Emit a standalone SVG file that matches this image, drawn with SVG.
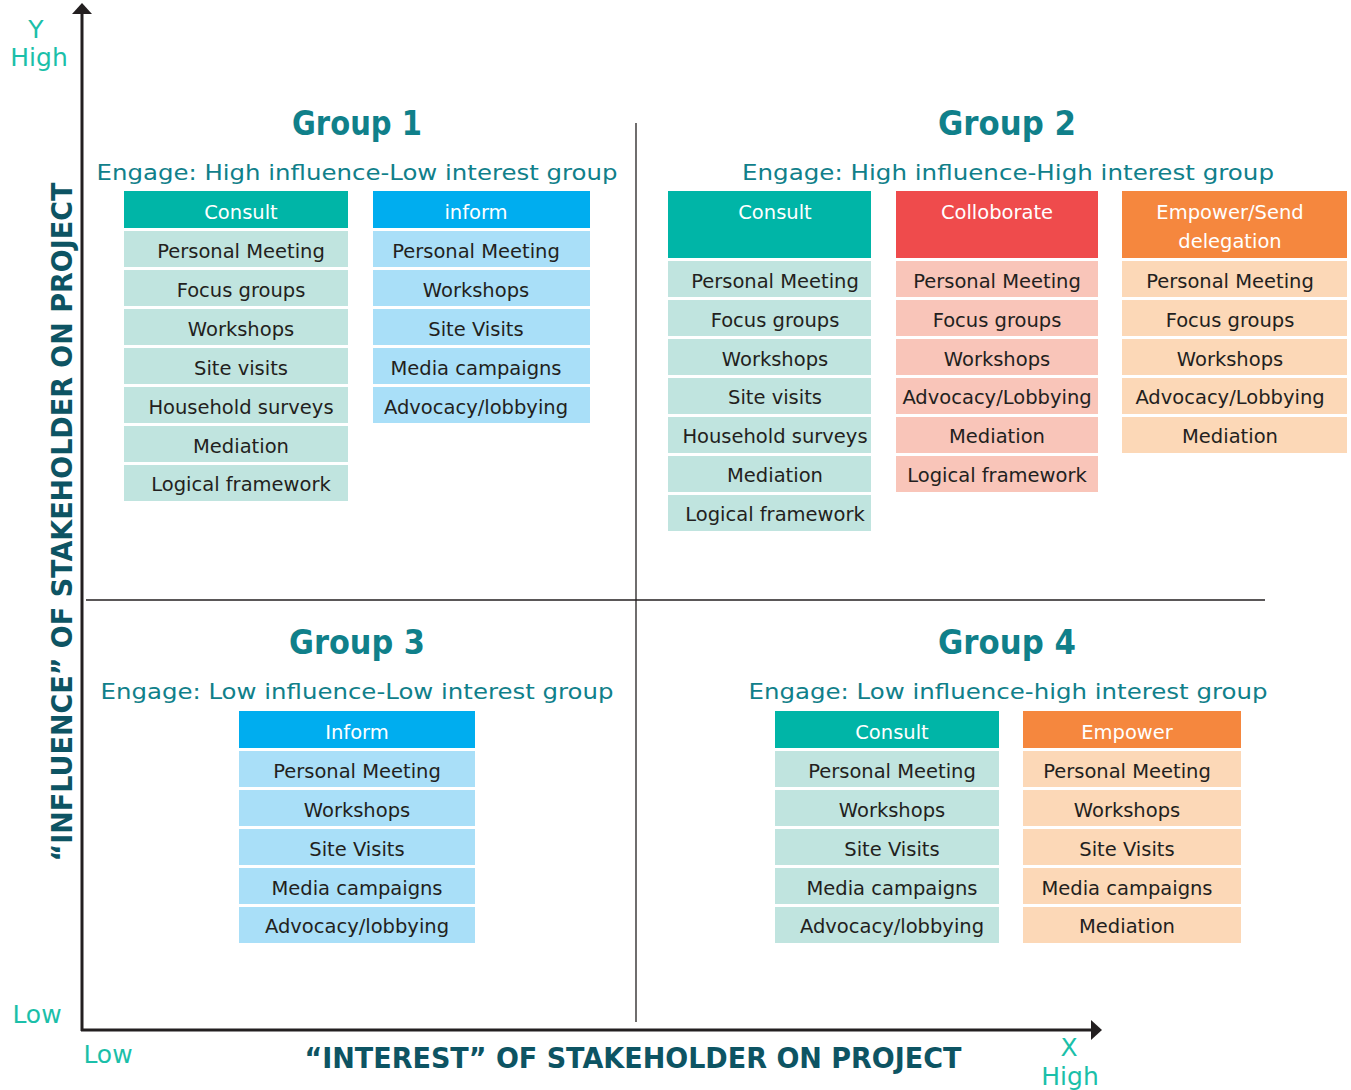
<svg xmlns="http://www.w3.org/2000/svg" width="1351" height="1090" viewBox="0 0 1351 1090">
<style>
text{font-family:"DejaVu Sans","Noto Sans",sans-serif;}
.title{font-size:34px;font-weight:bold;fill:#10808a;text-anchor:middle;}
.sub{font-size:22px;fill:#10808a;text-anchor:middle;}
.hd{font-size:19.5px;fill:#ffffff;text-anchor:middle;}
.it{font-size:19.5px;fill:#231f20;text-anchor:middle;}
.ax{font-size:25px;fill:#1bbfa9;}
.axl{font-size:29px;font-weight:bold;fill:#0d5463;}
.c{fill:#00b5a7}.cl{fill:#c0e4df}
.i{fill:#00adef}.il{fill:#a9dff8}
.r{fill:#ef4b4c}.rl{fill:#f9c5b9}
.o{fill:#f5873e}.ol{fill:#fcd8b7}
.line{stroke:#231f20;fill:none;}
</style>

<g id="axes">
<line class="line" x1="82" y1="12" x2="82" y2="1031" stroke-width="3"/>
<polygon points="82,3 72,14 92,14" fill="#231f20"/>
<line class="line" x1="81" y1="1030" x2="1093" y2="1030" stroke-width="3"/>
<polygon points="1102,1030 1091,1020 1091,1040" fill="#231f20"/>
<line class="line" x1="636" y1="123" x2="636" y2="1022" stroke-width="1.3"/>
<line class="line" x1="86" y1="600" x2="1265" y2="600" stroke-width="1.3"/>
<text class="ax" x="36" y="38" text-anchor="middle">Y</text>
<text class="ax" x="39" y="66" text-anchor="middle">High</text>
<text class="ax" x="37" y="1023" text-anchor="middle">Low</text>
<text class="ax" x="108" y="1063" text-anchor="middle">Low</text>
<text class="ax" x="1069" y="1056" text-anchor="middle">X</text>
<text class="ax" x="1070" y="1085" text-anchor="middle">High</text>
<text class="axl" x="633" y="1068" text-anchor="middle" textLength="657" lengthAdjust="spacingAndGlyphs">“INTEREST” OF STAKEHOLDER ON PROJECT</text>
<text class="axl" transform="translate(72,522) rotate(-90)" x="0" y="0" text-anchor="middle" textLength="679" lengthAdjust="spacingAndGlyphs">“INFLUENCE” OF STAKEHOLDER ON PROJECT</text>
</g>

<g id="group1">
<text class="title" x="357" y="135" textLength="130" lengthAdjust="spacingAndGlyphs">Group 1</text>
<text class="sub" x="357" y="180" textLength="521" lengthAdjust="spacingAndGlyphs">Engage: High influence-Low interest group</text>
<g id="g1-consult">
<rect class="c" x="124" y="191" width="224" height="37"/>
<text class="hd" x="241" y="219">Consult</text>
<rect class="cl" x="124" y="231" width="224" height="36"/><text class="it" x="241" y="258">Personal Meeting</text>
<rect class="cl" x="124" y="270" width="224" height="36"/><text class="it" x="241" y="297">Focus groups</text>
<rect class="cl" x="124" y="309" width="224" height="36"/><text class="it" x="241" y="336">Workshops</text>
<rect class="cl" x="124" y="348" width="224" height="36"/><text class="it" x="241" y="375">Site visits</text>
<rect class="cl" x="124" y="387" width="224" height="36"/><text class="it" x="241" y="414">Household surveys</text>
<rect class="cl" x="124" y="426" width="224" height="36"/><text class="it" x="241" y="453">Mediation</text>
<rect class="cl" x="124" y="465" width="224" height="36"/><text class="it" x="241" y="491">Logical framework</text>
</g>
<g id="g1-inform">
<rect class="i" x="373" y="191" width="217" height="37"/>
<text class="hd" x="476" y="219">inform</text>
<rect class="il" x="373" y="231" width="217" height="36"/><text class="it" x="476" y="258">Personal Meeting</text>
<rect class="il" x="373" y="270" width="217" height="36"/><text class="it" x="476" y="297">Workshops</text>
<rect class="il" x="373" y="309" width="217" height="36"/><text class="it" x="476" y="336">Site Visits</text>
<rect class="il" x="373" y="348" width="217" height="36"/><text class="it" x="476" y="375">Media campaigns</text>
<rect class="il" x="373" y="387" width="217" height="36"/><text class="it" x="476" y="414">Advocacy/lobbying</text>
</g>
</g>

<g id="group2">
<text class="title" x="1007" y="135" textLength="138" lengthAdjust="spacingAndGlyphs">Group 2</text>
<text class="sub" x="1008" y="180" textLength="532" lengthAdjust="spacingAndGlyphs">Engage: High influence-High interest group</text>
<g id="g2-consult">
<rect class="c" x="668" y="191" width="203" height="67"/>
<text class="hd" x="775" y="219">Consult</text>
<rect class="cl" x="668" y="261" width="203" height="36"/><text class="it" x="775" y="288">Personal Meeting</text>
<rect class="cl" x="668" y="300" width="203" height="36"/><text class="it" x="775" y="327">Focus groups</text>
<rect class="cl" x="668" y="339" width="203" height="36"/><text class="it" x="775" y="366">Workshops</text>
<rect class="cl" x="668" y="378" width="203" height="36"/><text class="it" x="775" y="404">Site visits</text>
<rect class="cl" x="668" y="417" width="203" height="36"/><text class="it" x="775" y="443">Household surveys</text>
<rect class="cl" x="668" y="456" width="203" height="36"/><text class="it" x="775" y="482">Mediation</text>
<rect class="cl" x="668" y="495" width="203" height="36"/><text class="it" x="775" y="521">Logical framework</text>
</g>
<g id="g2-collaborate">
<rect class="r" x="896" y="191" width="202" height="67"/>
<text class="hd" x="997" y="219">Colloborate</text>
<rect class="rl" x="896" y="261" width="202" height="36"/><text class="it" x="997" y="288">Personal Meeting</text>
<rect class="rl" x="896" y="300" width="202" height="36"/><text class="it" x="997" y="327">Focus groups</text>
<rect class="rl" x="896" y="339" width="202" height="36"/><text class="it" x="997" y="366">Workshops</text>
<rect class="rl" x="896" y="378" width="202" height="36"/><text class="it" x="997" y="404">Advocacy/Lobbying</text>
<rect class="rl" x="896" y="417" width="202" height="36"/><text class="it" x="997" y="443">Mediation</text>
<rect class="rl" x="896" y="456" width="202" height="36"/><text class="it" x="997" y="482">Logical framework</text>
</g>
<g id="g2-empower">
<rect class="o" x="1122" y="191" width="225" height="67"/>
<text class="hd" x="1230" y="219">Empower/Send</text>
<text class="hd" x="1230" y="248">delegation</text>
<rect class="ol" x="1122" y="261" width="225" height="36"/><text class="it" x="1230" y="288">Personal Meeting</text>
<rect class="ol" x="1122" y="300" width="225" height="36"/><text class="it" x="1230" y="327">Focus groups</text>
<rect class="ol" x="1122" y="339" width="225" height="36"/><text class="it" x="1230" y="366">Workshops</text>
<rect class="ol" x="1122" y="378" width="225" height="36"/><text class="it" x="1230" y="404">Advocacy/Lobbying</text>
<rect class="ol" x="1122" y="417" width="225" height="36"/><text class="it" x="1230" y="443">Mediation</text>
</g>
</g>

<g id="group3">
<text class="title" x="357" y="654" textLength="136" lengthAdjust="spacingAndGlyphs">Group 3</text>
<text class="sub" x="357" y="699" textLength="513" lengthAdjust="spacingAndGlyphs">Engage: Low influence-Low interest group</text>
<g id="g3-inform">
<rect class="i" x="239" y="711" width="236" height="37"/>
<text class="hd" x="357" y="739">Inform</text>
<rect class="il" x="239" y="751" width="236" height="36"/><text class="it" x="357" y="778">Personal Meeting</text>
<rect class="il" x="239" y="790" width="236" height="36"/><text class="it" x="357" y="817">Workshops</text>
<rect class="il" x="239" y="829" width="236" height="36"/><text class="it" x="357" y="856">Site Visits</text>
<rect class="il" x="239" y="868" width="236" height="36"/><text class="it" x="357" y="895">Media campaigns</text>
<rect class="il" x="239" y="907" width="236" height="36"/><text class="it" x="357" y="933">Advocacy/lobbying</text>
</g>
</g>

<g id="group4">
<text class="title" x="1007" y="654" textLength="138" lengthAdjust="spacingAndGlyphs">Group 4</text>
<text class="sub" x="1008" y="699" textLength="519" lengthAdjust="spacingAndGlyphs">Engage: Low influence-high interest group</text>
<g id="g4-consult">
<rect class="c" x="775" y="711" width="224" height="37"/>
<text class="hd" x="892" y="739">Consult</text>
<rect class="cl" x="775" y="751" width="224" height="36"/><text class="it" x="892" y="778">Personal Meeting</text>
<rect class="cl" x="775" y="790" width="224" height="36"/><text class="it" x="892" y="817">Workshops</text>
<rect class="cl" x="775" y="829" width="224" height="36"/><text class="it" x="892" y="856">Site Visits</text>
<rect class="cl" x="775" y="868" width="224" height="36"/><text class="it" x="892" y="895">Media campaigns</text>
<rect class="cl" x="775" y="907" width="224" height="36"/><text class="it" x="892" y="933">Advocacy/lobbying</text>
</g>
<g id="g4-empower">
<rect class="o" x="1023" y="711" width="218" height="37"/>
<text class="hd" x="1127" y="739">Empower</text>
<rect class="ol" x="1023" y="751" width="218" height="36"/><text class="it" x="1127" y="778">Personal Meeting</text>
<rect class="ol" x="1023" y="790" width="218" height="36"/><text class="it" x="1127" y="817">Workshops</text>
<rect class="ol" x="1023" y="829" width="218" height="36"/><text class="it" x="1127" y="856">Site Visits</text>
<rect class="ol" x="1023" y="868" width="218" height="36"/><text class="it" x="1127" y="895">Media campaigns</text>
<rect class="ol" x="1023" y="907" width="218" height="36"/><text class="it" x="1127" y="933">Mediation</text>
</g>
</g>
</svg>
